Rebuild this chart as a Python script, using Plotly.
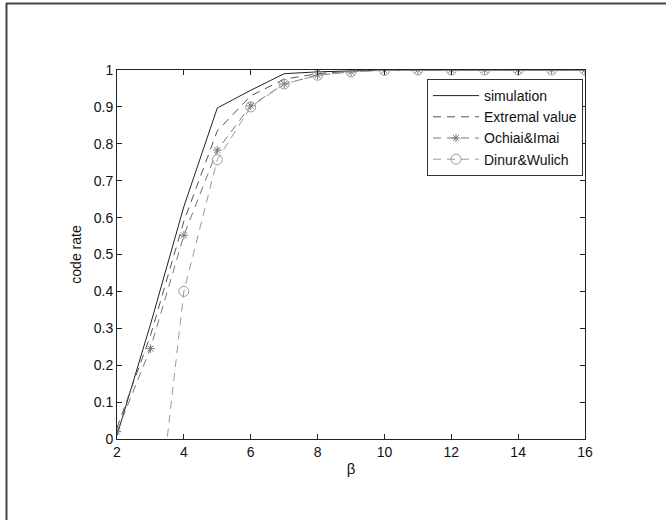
import plotly.graph_objects as go

beta = [2, 3, 4, 5, 6, 7, 8, 9, 10, 11, 12, 13, 14, 15, 16]
simulation = [0.01, 0.31, 0.63, 0.897, 0.945, 0.99, 0.995, 0.998, 1, 1, 1, 1, 1, 1, 1]
extremal = [0.03, 0.28, 0.59, 0.835, 0.93, 0.975, 0.99, 0.997, 1, 1, 1, 1, 1, 1, 1]
ochiai = [0.02, 0.245, 0.552, 0.783, 0.903, 0.962, 0.986, 0.995, 0.999, 1, 1, 1, 1, 1, 1]
dinur = [-1.2, -0.4, 0.40, 0.757, 0.90, 0.962, 0.986, 0.995, 0.999, 1, 1, 1, 1, 1, 1]

x_ticks = [2, 4, 6, 8, 10, 12, 14, 16]
y_ticks = [0, 0.1, 0.2, 0.3, 0.4, 0.5, 0.6, 0.7, 0.8, 0.9, 1]
y_labels = ["0", "0.1", "0.2", "0.3", "0.4", "0.5", "0.6", "0.7", "0.8", "0.9", "1"]

font = "Liberation Sans, Arial, sans-serif"

# plot-area geometry (pixels)
L, R, T, B = 117, 585, 70, 439
W, H = R - L, B - T

fig = go.Figure()
fig.add_trace(go.Scatter(x=beta, y=simulation, mode="lines", name="simulation",
                         line=dict(color="#222222", width=1)))
fig.add_trace(go.Scatter(x=beta, y=extremal, mode="lines", name="Extremal value",
                         line=dict(color="#555555", width=1, dash="8px,6px")))
fig.add_trace(go.Scatter(x=beta, y=ochiai, mode="lines+markers", name="Ochiai&Imai",
                         line=dict(color="#777777", width=1, dash="8px,6px"),
                         marker=dict(symbol="asterisk-open", size=7,
                                     line=dict(color="#666666", width=1))))
fig.add_trace(go.Scatter(x=beta, y=dinur, mode="lines+markers", name="Dinur&Wulich",
                         line=dict(color="#9a9a9a", width=1, dash="8px,6px"),
                         marker=dict(symbol="circle-open", size=10,
                                     line=dict(color="#8a8a8a", width=1))))

axis_common = dict(showline=True, linecolor="#222222", linewidth=1, mirror="ticks",
                   ticks="inside", ticklen=5, tickcolor="#222222", showgrid=False,
                   zeroline=False, tickfont=dict(family=font, size=14, color="#111111"))

fig.update_layout(
    width=666, height=520,
    margin=dict(l=L, r=666 - R, t=T, b=520 - B),
    paper_bgcolor="white", plot_bgcolor="white",
    font=dict(family=font, size=14, color="#111111"),
    xaxis=dict(range=[2, 16], tickvals=x_ticks,
               title=dict(text="β", standoff=4, font=dict(family=font, size=15)),
               **axis_common),
    yaxis=dict(range=[0, 1], tickvals=y_ticks, ticktext=y_labels,
               title=dict(text="code rate", standoff=8, font=dict(family=font, size=14)),
               **axis_common),
    legend=dict(x=(583 - L) / W, y=1 - (79 - T) / H, xanchor="right", yanchor="top",
                bgcolor="white", bordercolor="#333333", borderwidth=1,
                font=dict(family=font, size=14, color="#111111"),
                itemwidth=46, tracegroupgap=0),
    showlegend=True,
)

# outer frame (top and left edges)
fig.add_shape(type="line", xref="paper", yref="paper",
              x0=(6 - L) / W, x1=(700 - L) / W,
              y0=(B - 3.5) / H, y1=(B - 3.5) / H,
              line=dict(color="#444444", width=2))
fig.add_shape(type="line", xref="paper", yref="paper",
              x0=(6.5 - L) / W, x1=(6.5 - L) / W,
              y0=(B - 3) / H, y1=(B - 560) / H,
              line=dict(color="#444444", width=2))

fig.write_html("out.html")
